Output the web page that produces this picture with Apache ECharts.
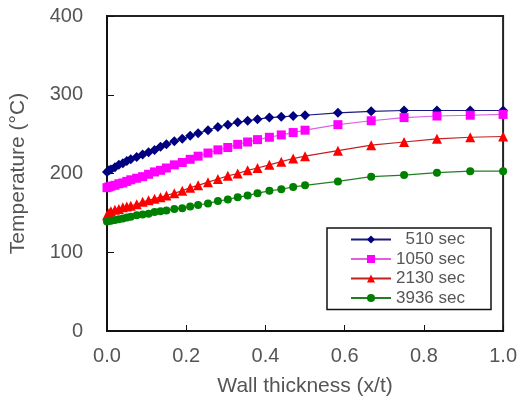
<!DOCTYPE html>
<html>
<head>
<meta charset="utf-8">
<script src="https://cdn.jsdelivr.net/npm/echarts@6/dist/echarts.min.js"></script>
<style>html,body{margin:0;padding:0;background:#fff}#c{width:520px;height:415px}</style>
</head>
<body>
<div id="c"></div>
<script>
const xs = [0, 0.005, 0.01, 0.02, 0.03, 0.04, 0.05, 0.06, 0.075, 0.09, 0.105, 0.12, 0.135, 0.15, 0.17, 0.19, 0.21, 0.23, 0.255, 0.28, 0.305, 0.33, 0.355, 0.38, 0.41, 0.44, 0.47, 0.5, 0.583, 0.667, 0.75, 0.833, 0.917, 1.0];
const t510  = [202,204,205,208,211,213,216,218,221,224,227,230,234,237,241,244,248,251,255,259,262,265,267,269,271,272,273,274,277,279,280,280,280,280];
const t1050 = [182,183,184,185,187,188,190,192,194,196,199,202,204,207,211,214,218,222,226,230,233,237,240,243,246,249,252,255,262,267,271,273,274,275];
const t2130 = [147,150,152,154,155,157,158,159,161,164,166,168,170,172,175,178,182,185,189,193,197,200,204,207,211,215,219,222,229,236,240,244,246,247];
const t3936 = [139,140,140,141,142,143,144,145,147,148,149,151,152,153,155,156,158,160,162,165,167,170,172,175,178,180,183,185,190,196,198,201,203,203];
const seriesNames = ['\u2007510 sec', '1050 sec', '2130 sec', '3936 sec'];
const xTicks = [0.0, 0.2, 0.4, 0.6, 0.8, 1.0];
const yTicks = [0, 100, 200, 300, 400];

const FONT = 'Liberation Sans';
const TXT = '#555';
function pts(ys){ return xs.map((x,i)=>[x, ys[i]]); }
const styles = [
  {line:'#1a1a80', sym:'#000080', symbol:'diamond', size:10},
  {line:'#e060e0', sym:'#ff00ff', symbol:'rect', size:9},
  {line:'#c02020', sym:'#ff0000', symbol:'triangle', size:10},
  {line:'#208020', sym:'#008000', symbol:'circle', size:8}
];
const data = [t510, t1050, t2130, t3936];
const chart = echarts.init(document.getElementById('c'), null, {renderer:'canvas'});
chart.setOption({
  animation:false,
  backgroundColor:'#fff',
  grid:{left:107, right:15, top:16, bottom:84, show:true, borderColor:'#222', borderWidth:2, backgroundColor:'transparent'},
  legend:{
    orient:'vertical', left:327, top:228,
    width: 166,
    padding:[3,26,3,23],
    borderColor:'#111', borderWidth:1.5,
    itemWidth:40, itemHeight:10, itemGap:2.5,
    align:'left',
    textStyle:{fontFamily:FONT, fontSize:17, color:TXT, padding:[0,0,0,0]},
    data: seriesNames
  },
  xAxis:{
    type:'value', min:0, max:1, interval:0.2,
    name:'Wall thickness (x/t)', nameLocation:'middle', nameGap:45,
    nameTextStyle:{fontFamily:FONT, fontSize:21, color:TXT},
    axisLine:{show:true, lineStyle:{color:'#111', width:2}},
    axisTick:{show:true, inside:true, length:6, lineStyle:{color:'#111', width:1}},
    axisLabel:{fontFamily:FONT, fontSize:20, color:TXT, margin:15, formatter:v=>xTicks.includes(+v.toFixed(1)) ? v.toFixed(1) : ''},
    splitLine:{show:false}
  },
  yAxis:{
    type:'value', min:0, max:400, interval:100,
    name:'Temperature (°C)', nameLocation:'middle', nameGap:78,
    nameTextStyle:{fontFamily:FONT, fontSize:21, color:TXT},
    axisLine:{show:true, lineStyle:{color:'#111', width:2}},
    axisTick:{show:true, inside:true, length:7, lineStyle:{color:'#111', width:1}},
    axisLabel:{fontFamily:FONT, fontSize:20, color:TXT, margin:24, formatter:v=>yTicks.includes(v) ? String(v) : ''},
    splitLine:{show:false}
  },
  series: data.map((d,i)=>({
    name: seriesNames[i], type:'line', data: pts(d),
    symbol: styles[i].symbol, symbolSize: styles[i].size, showSymbol:true,
    lineStyle:{color:styles[i].line, width:1.2},
    itemStyle:{color:styles[i].sym, borderWidth:0},
    emphasis:{disabled:true}
  }))
});
</script>
</body>
</html>
